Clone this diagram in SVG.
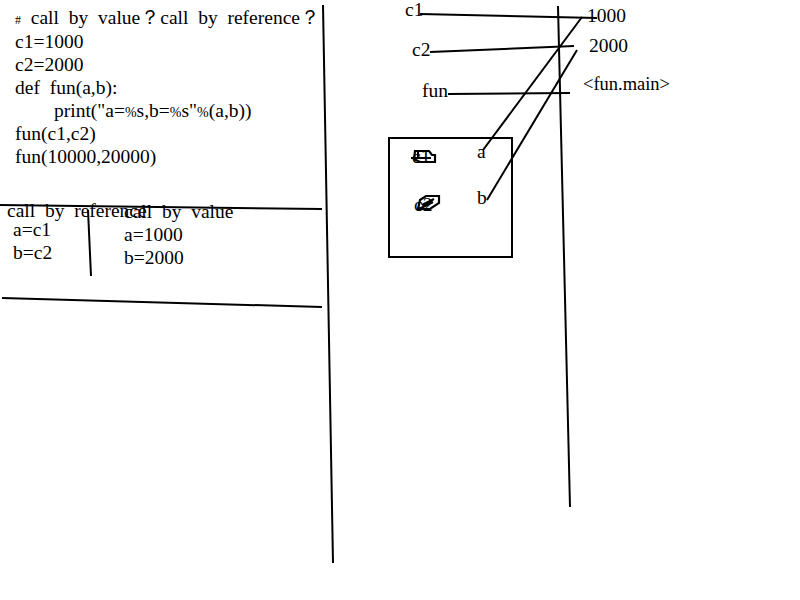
<svg xmlns="http://www.w3.org/2000/svg" width="800" height="600" viewBox="0 0 800 600">
<style>
text{font-family:"Liberation Serif","Times New Roman",serif;font-size:19.5px;fill:#000;white-space:pre}
.ln{stroke:#000;stroke-width:2;fill:none}
.sc{stroke:#000;stroke-width:2.2;fill:none}
</style>
<rect width="800" height="600" fill="#fff"/>
<g id="code">
<text x="15" y="24" textLength="305" lengthAdjust="spacing"><tspan font-size="12">#</tspan>  call  by  value？call  by  reference？</text>
<text x="15" y="48">c1=1000</text>
<text x="15" y="71">c2=2000</text>
<text x="15" y="94">def  fun(a,b):</text>
<text x="54" y="117">print("a=<tspan font-size="14">%</tspan>s,b=<tspan font-size="14">%</tspan>s"<tspan font-size="14">%</tspan>(a,b))</text>
<text x="15" y="140">fun(c1,c2)</text>
<text x="15" y="163">fun(10000,20000)</text>
</g>
<g id="table">
<text x="7" y="217">call  by  reference</text>
<text x="124" y="218">call  by  value</text>
<text x="13" y="236">a=c1</text>
<text x="13" y="259">b=c2</text>
<text x="124" y="241">a=1000</text>
<text x="124" y="264">b=2000</text>
</g>
<g id="memory">
<text x="405" y="16">c1</text>
<text x="412" y="56">c2</text>
<text x="422" y="97">fun</text>
<text x="587" y="22">1000</text>
<text x="589" y="52">2000</text>
<text x="583" y="90" font-size="17" textLength="87" lengthAdjust="spacingAndGlyphs">&lt;fun.main&gt;</text>
</g>
<g id="frame">
<rect x="389" y="138" width="123" height="119" class="ln"/>
<text x="477" y="158">a</text>
<text x="477" y="204">b</text>
<text x="412" y="163">c1</text>
<path class="sc" d="M415 151h14l3 4h3v7h-15l-6 -3zM418 152v7M411 158h20"/>
<text x="414" y="211">c2</text>
<path class="sc" d="M420 200l6 -4h13v7l-9 6h-12zM422 205l12 -6M419 209l14 -7"/>
</g>
<g id="connectors">
<path class="ln" d="M323 5L333 563"/>
<path class="ln" d="M0 205L322 209"/>
<path class="ln" d="M2 298L322 307"/>
<path class="ln" d="M88 210L91 276"/>
<path class="ln" d="M558 6L570 507"/>
<path class="ln" d="M420 14L597 18"/>
<path class="ln" d="M430 52L574 46"/>
<path class="ln" d="M448 94L570 93"/>
<path class="ln" d="M582 17L483 150"/>
<path class="ln" d="M577 50L487 200"/>
</g>
</svg>
